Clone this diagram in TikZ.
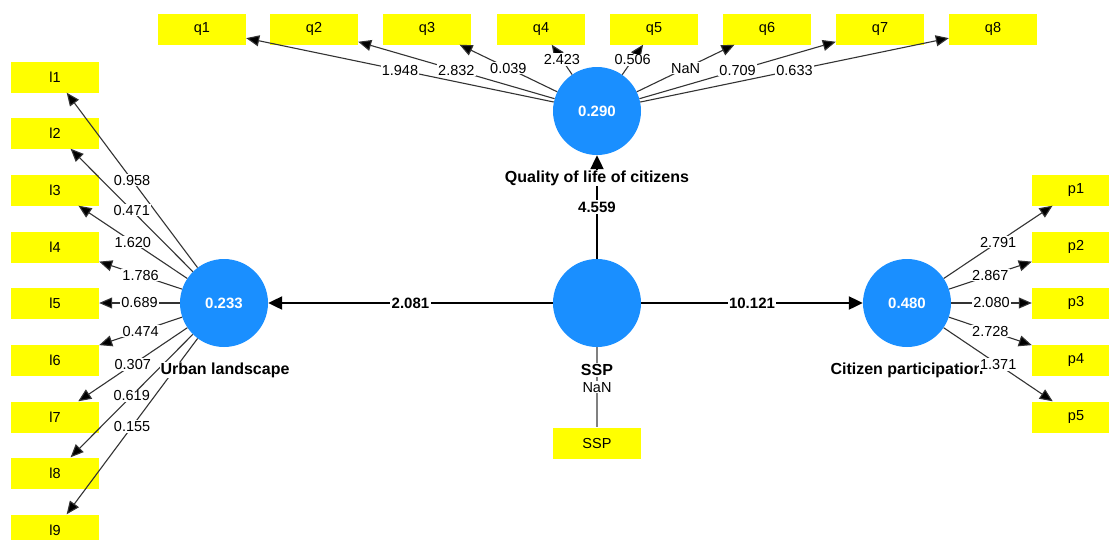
\documentclass[tikz,border=0pt]{standalone}
\usepackage{fontspec}
\setmainfont{Liberation Sans}
\usetikzlibrary{arrows.meta}
\definecolor{lvblue}{HTML}{1A8FFF}
\definecolor{mvyellow}{HTML}{FFFF00}
\definecolor{lnk}{HTML}{333333}
\tikzset{
  lvar/.style={circle,fill=lvblue,minimum size=88pt,inner sep=0pt,text=white,
    font=\fontsize{15}{17}\selectfont\bfseries},
  ind/.style={rectangle,fill=mvyellow,minimum width=88pt,minimum height=31pt,inner sep=0pt,
    font=\fontsize{14.5}{16}\selectfont},
  lname/.style={fill=white,inner sep=1pt,font=\fontsize{16}{18}\selectfont\bfseries},
  ldarr/.style={-{Triangle[length=13pt,width=11pt,fill=black]},line width=1.1pt,draw=lnk},
  strarr/.style={-{Triangle[length=14pt,width=13pt]},line width=2.2pt,draw=black},
  wlab/.style={fill=white,inner sep=1pt,font=\fontsize{14.5}{16}\selectfont},
  slab/.style={fill=white,inner sep=1.5pt,font=\fontsize{15}{17}\selectfont\bfseries}
}

\begin{document}
\begin{tikzpicture}[x=1pt,y=-1pt]
  \clip (0,0) rectangle (1109,539);
  \fill[white] (0,0) rectangle (1109,539);
  % latent variables
  \node[lvar] (qol) at (597,111) {0.290};
  \node[lvar] (ul) at (224,303) {0.233};
  \node[lvar] (ssp) at (597,303) {};
  \node[lvar] (cp) at (907,303) {0.480};
  % indicators
  \node[ind] (q1) at (202,29) {q1};
  \node[ind] (q2) at (314,29) {q2};
  \node[ind] (q3) at (427,29) {q3};
  \node[ind] (q4) at (541,29) {q4};
  \node[ind] (q5) at (654,29) {q5};
  \node[ind] (q6) at (767,29) {q6};
  \node[ind] (q7) at (880,29) {q7};
  \node[ind] (q8) at (993,29) {q8};
  \node[ind] (l1) at (55,77) {l1};
  \node[ind] (l2) at (55,133) {l2};
  \node[ind] (l3) at (55,190) {l3};
  \node[ind] (l4) at (55,247) {l4};
  \node[ind] (l5) at (55,303) {l5};
  \node[ind] (l6) at (55,360) {l6};
  \node[ind] (l7) at (55,417) {l7};
  \node[ind] (l8) at (55,473) {l8};
  \node[ind] (l9) at (55,530) {l9};
  \node[ind] (p1) at (1076,190) {p1};
  \node[ind] (p2) at (1076,247) {p2};
  \node[ind] (p3) at (1076,303) {p3};
  \node[ind] (p4) at (1076,360) {p4};
  \node[ind] (p5) at (1076,417) {p5};
  \node[ind] (sspi) at (597,443) {SSP};
  \node[lname,fill=none] (cpname) at (907,370) {Citizen participation};
  % outer loadings
  \draw[ldarr] (qol) -- node[wlab] {1.948} (q1);
  \draw[ldarr] (qol) -- node[wlab] {2.832} (q2);
  \draw[ldarr] (qol) -- node[wlab] {0.039} (q3);
  \draw[ldarr] (qol) -- node[wlab] {2.423} (q4);
  \draw[ldarr] (qol) -- node[wlab] {0.506} (q5);
  \draw[ldarr] (qol) -- node[wlab] {NaN} (q6);
  \draw[ldarr] (qol) -- node[wlab] {0.709} (q7);
  \draw[ldarr] (qol) -- node[wlab] {0.633} (q8);
  \draw[ldarr] (ul) -- node[wlab] {0.958} (l1);
  \draw[ldarr] (ul) -- node[wlab] {0.471} (l2);
  \draw[ldarr] (ul) -- node[wlab] {1.620} (l3);
  \draw[ldarr] (ul) -- node[wlab] {1.786} (l4);
  \draw[ldarr] (ul) -- node[wlab] {0.689} (l5);
  \draw[ldarr] (ul) -- node[wlab] {0.474} (l6);
  \draw[ldarr] (ul) -- node[wlab] {0.307} (l7);
  \draw[ldarr] (ul) -- node[wlab] {0.619} (l8);
  \draw[ldarr] (ul) -- node[wlab] {0.155} (l9);
  \draw[ldarr] (cp) -- node[wlab] {2.791} (p1);
  \draw[ldarr] (cp) -- node[wlab] {2.867} (p2);
  \draw[ldarr] (cp) -- node[wlab] {2.080} (p3);
  \draw[ldarr] (cp) -- node[wlab] {2.728} (p4);
  \draw[ldarr] (cp) -- node[wlab] {1.371} (p5);
  \draw[line width=1.1pt,draw=gray] (ssp) -- node[wlab] {NaN} (sspi);
  % inner model
  \draw[strarr] (ssp) -- node[slab] {2.081} (ul);
  \draw[strarr] (ssp) -- node[slab] {10.121} (cp);
  \draw[strarr] (ssp) -- node[slab] {4.559} (qol);
  % construct names
  \node[lname] (qolname) at (597,178) {Quality of life of citizens};
  \node[lname] (ulname) at (225,370) {Urban landscape};
  \node[lname] (sspname) at (597,370) {SSP};
\end{tikzpicture}
\end{document}
